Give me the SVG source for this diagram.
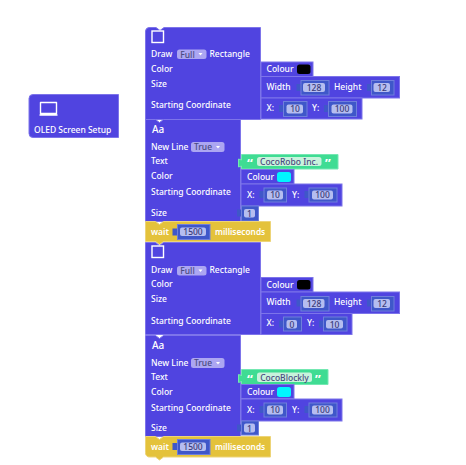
<svg xmlns="http://www.w3.org/2000/svg" width="466" height="465" viewBox="0 0 466 465">
<style>
text{font-family:"Noto Sans","Open Sans","Liberation Sans",sans-serif;font-size:8.500px;fill:#fff;font-weight:500}
.b{fill:#5044e0;stroke:#7d74ea;stroke-width:1}
.y{fill:#e4c23b;stroke:#edd478;stroke-width:1}
.g{fill:#3fdc93;stroke:#74e8b2;stroke-width:1}
.o{fill:#3f57c9;stroke:#6f7fdc;stroke-width:1}
.tab{fill:#3f57c9}
.f{fill:#b5bdf0}
.m{fill:#aca6f2}
.s{fill:#c8f3dc}
.t{fill:#4a4a80;text-anchor:middle}
.n{fill:#3b3b78;text-anchor:middle}
.q{font-size:13px;font-weight:700}
.k{fill:none;stroke:#fff;stroke-width:1.400}
.c{fill:none;stroke:#7d74ea;stroke-width:1}
.d{fill:#4638c0}
</style>
<g id="connectors">
<path class="c" d="M257 66v5h4M257 81v5h4M257 102v5h4M257 282v5h4M257 297v5h4M257 318v5h4"/>
<path class="d" d="M236 175h5v5h-5zM236 191h5v5h-5zM236 391h5v5h-5zM236 407h5v5h-5z"/>
</g>
<g id="oled-setup">
<path class="b" d="M33 94.500H118.500V137.500H33a4 4 0 0 1-4-4V98.500a4 4 0 0 1 4-4z"/>
<path class="k" d="M40.500 102.500h16v11h-16zM39.500 115h18" stroke-linejoin="round"/>
<text x="34" y="133">OLED Screen Setup</text>
</g>
<g id="rect-1">
<path class="b" d="M149 27.500h7l4 3 4-3H260.500V119.500H145.500V31a4 4 0 0 1 3.500-3.500z"/>
<rect class="k" x="152" y="31" width="11.500" height="11.500"/>
<text x="151" y="57">Draw</text>
<rect class="m" x="177" y="49.500" width="29.500" height="9.500" rx="2.500"/>
<text class="t" x="187.500" y="57.500">Full</text>
<path d="M198.500 53h4l-2 2.500z" fill="#fff"/>
<text x="209.500" y="57">Rectangle</text>
<text x="151" y="72">Color</text>
<text x="151" y="87">Size</text>
<text x="151" y="108">Starting Coordinate</text>
</g>
<g id="rect-1-colour">
<rect class="b" x="261" y="62" width="52" height="14.500"/>
<text x="266.500" y="72">Colour</text>
<rect x="297" y="64.500" width="13.500" height="9.500" rx="2.500" fill="#000"/>
</g>
<g id="rect-1-size">
<rect class="b" x="261" y="76.500" width="138.500" height="21.500"/>
<text x="266.500" y="90">Width</text>
<rect class="tab" x="296.500" y="84" width="5" height="7"/>
<rect class="o" x="301" y="80.500" width="28" height="14.500"/>
<rect class="f" x="303" y="83" width="22" height="9" rx="2"/>
<text class="n" x="314" y="90.500">128</text>
<text x="334" y="90">Height</text>
<rect class="tab" x="367" y="84" width="5" height="7"/>
<rect class="o" x="371.500" y="80.500" width="22.500" height="14.500"/>
<rect class="f" x="373.500" y="83" width="16.500" height="9" rx="2"/>
<text class="n" x="382" y="90.500">12</text>
</g>
<g id="rect-1-coord">
<rect class="b" x="261" y="98" width="101" height="21"/>
<text x="266.500" y="111">X:</text>
<rect class="tab" x="279" y="105" width="5" height="7"/>
<rect class="o" x="283.500" y="101.500" width="23.500" height="15"/>
<rect class="f" x="286.500" y="104.500" width="16.500" height="9" rx="2"/>
<text class="n" x="295" y="112">10</text>
<text x="312" y="111">Y:</text>
<rect class="tab" x="324" y="105" width="5" height="7"/>
<rect class="o" x="328.500" y="101.500" width="28" height="15"/>
<rect class="f" x="331.500" y="104.500" width="21" height="9" rx="2"/>
<text class="n" x="342" y="112">100</text>
</g>
<g id="text-1">
<path class="b" d="M145.500 119.500h10l4 3 4-3H240.500V221.500H145.500z"/>
<text x="152" y="133" style="font-size:10px">Aa</text>
<text x="151" y="150">New Line</text>
<rect class="m" x="191" y="142" width="33.500" height="10" rx="2.500"/>
<text class="t" x="203" y="150">True</text>
<path d="M216 146h4l-2 2.500z" fill="#fff"/>
<text x="151" y="164">Text</text>
<text x="151" y="179">Color</text>
<text x="151" y="195">Starting Coordinate</text>
<text x="151" y="216">Size</text>
</g>
<g id="text-1-string">
<path class="g" d="M241.500 154.500H338V169H241.500v-3l-3 1v-8l3 1z"/>
<text class="q" x="247" y="168">“</text>
<rect class="s" x="257" y="157" width="64.500" height="9" rx="2.500"/>
<text class="t" x="289" y="165">CocoRobo Inc.</text>
<text class="q" x="325" y="168">”</text>
</g>
<g id="text-1-colour">
<rect class="b" x="241" y="169.500" width="53" height="14.500"/>
<text x="247" y="179.500">Colour</text>
<rect x="277" y="172" width="14" height="10" rx="2.500" fill="#00f5ff"/>
</g>
<g id="text-1-coord">
<rect class="b" x="241" y="184" width="101" height="22"/>
<text x="247" y="198">X:</text>
<rect class="tab" x="259.500" y="191" width="5" height="7"/>
<rect class="o" x="264" y="188" width="22.500" height="14"/>
<rect class="f" x="267" y="190.500" width="16" height="9" rx="2"/>
<text class="n" x="275" y="198">10</text>
<text x="292" y="198">Y:</text>
<rect class="tab" x="304.500" y="191" width="5" height="7"/>
<rect class="o" x="309" y="188" width="28" height="14"/>
<rect class="f" x="312" y="190.500" width="21" height="9" rx="2"/>
<text class="n" x="322.500" y="198">100</text>
</g>
<g id="text-1-size">
<rect class="tab" x="237" y="209.500" width="5" height="7"/>
<rect class="o" x="241.500" y="206" width="17" height="15"/>
<rect class="f" x="244" y="209" width="11" height="8.500" rx="2"/>
<text class="n" x="249.500" y="216.500">1</text>
</g>
<g id="wait-1">
<path class="y" d="M145.500 221.500h10l4 3 4-3H270.500V241.500H163.500l-4 3-4-3H145.500z"/>
<text x="151" y="234.500" style="font-weight:600">wait</text>
<rect class="tab" x="172.500" y="228.500" width="5" height="7"/>
<rect class="o" x="177.500" y="224.500" width="32.500" height="15"/>
<rect class="f" x="180" y="227.500" width="26" height="8.500" rx="2"/>
<text class="n" x="193" y="235">1500</text>
<text x="215" y="234.500" style="font-weight:600;font-size:8.300px">milliseconds</text>
</g>
<g id="rect-2">
<path class="b" d="M145.500 242.500h10l4 3 4-3H260.500V334.500H145.500z"/>
<rect class="k" x="152" y="246" width="11.500" height="11.500"/>
<text x="151" y="273">Draw</text>
<rect class="m" x="177" y="266" width="29.500" height="9.500" rx="2.500"/>
<text class="t" x="187.500" y="274">Full</text>
<path d="M198.500 269.500h4l-2 2.500z" fill="#fff"/>
<text x="209.500" y="273">Rectangle</text>
<text x="151" y="287">Color</text>
<text x="151" y="302">Size</text>
<text x="151" y="324">Starting Coordinate</text>
</g>
<g id="rect-2-colour">
<rect class="b" x="261" y="277.500" width="52" height="14.500"/>
<text x="266.500" y="287.500">Colour</text>
<rect x="297" y="280" width="13.500" height="9.500" rx="2.500" fill="#000"/>
</g>
<g id="rect-2-size">
<rect class="b" x="261" y="292" width="138.500" height="21.500"/>
<text x="266.500" y="305">Width</text>
<rect class="tab" x="296.500" y="299.500" width="5" height="7"/>
<rect class="o" x="301" y="296.500" width="28" height="14.500"/>
<rect class="f" x="303" y="299" width="21.500" height="9" rx="2"/>
<text class="n" x="314" y="306.500">128</text>
<text x="334" y="305">Height</text>
<rect class="tab" x="367" y="299.500" width="5" height="7"/>
<rect class="o" x="371.500" y="296.500" width="22.500" height="14.500"/>
<rect class="f" x="373.500" y="299" width="16.500" height="9" rx="2"/>
<text class="n" x="382" y="306.500">12</text>
</g>
<g id="rect-2-coord">
<rect class="b" x="261" y="313.500" width="91" height="21"/>
<text x="266.500" y="326">X:</text>
<rect class="tab" x="279" y="320.500" width="5" height="7"/>
<rect class="o" x="283.500" y="317" width="18" height="14"/>
<rect class="f" x="286.500" y="320" width="10.500" height="8.500" rx="2"/>
<text class="n" x="292" y="327.500">0</text>
<text x="307" y="326">Y:</text>
<rect class="tab" x="319" y="320.500" width="5" height="7"/>
<rect class="o" x="323.500" y="317" width="23.500" height="14"/>
<rect class="f" x="326" y="320" width="17" height="8.500" rx="2"/>
<text class="n" x="334.500" y="327.500">10</text>
</g>
<g id="text-2">
<path class="b" d="M145.500 335.500h10l4 3 4-3H240.500V436.500H145.500z"/>
<text x="152" y="349" style="font-size:10px">Aa</text>
<text x="151" y="366">New Line</text>
<rect class="m" x="191" y="358" width="33.500" height="10" rx="2.500"/>
<text class="t" x="203" y="366">True</text>
<path d="M216 362h4l-2 2.500z" fill="#fff"/>
<text x="151" y="380">Text</text>
<text x="151" y="395">Color</text>
<text x="151" y="411">Starting Coordinate</text>
<text x="151" y="431">Size</text>
</g>
<g id="text-2-string">
<path class="g" d="M241.500 369.500H328V384.500H241.500v-3l-3 1v-8l3 1z"/>
<text class="q" x="247" y="383.500">“</text>
<rect class="s" x="257" y="372.500" width="55" height="9.500" rx="2.500"/>
<text class="t" x="284.500" y="380.500">CocoBlockly</text>
<text class="q" x="315" y="383.500">”</text>
</g>
<g id="text-2-colour">
<rect class="b" x="241" y="384.500" width="53" height="14"/>
<text x="247" y="395">Colour</text>
<rect x="277" y="387" width="14" height="10" rx="2.500" fill="#00f5ff"/>
</g>
<g id="text-2-coord">
<rect class="b" x="241" y="399" width="101" height="22"/>
<text x="247" y="412.500">X:</text>
<rect class="tab" x="259.500" y="406" width="5" height="7"/>
<rect class="o" x="264" y="403" width="22.500" height="14"/>
<rect class="f" x="267" y="405.500" width="16" height="9" rx="2"/>
<text class="n" x="275" y="413">10</text>
<text x="292" y="412.500">Y:</text>
<rect class="tab" x="304.500" y="406" width="5" height="7"/>
<rect class="o" x="309" y="403" width="28" height="14"/>
<rect class="f" x="312" y="405.500" width="21" height="9" rx="2"/>
<text class="n" x="322.500" y="413">100</text>
</g>
<g id="text-2-size">
<rect class="tab" x="237" y="424.500" width="5" height="7"/>
<rect class="o" x="241.500" y="421" width="17" height="14"/>
<rect class="f" x="244" y="423.500" width="11" height="9" rx="2"/>
<text class="n" x="249.500" y="431.500">1</text>
</g>
<g id="wait-2">
<path class="y" d="M145.500 436.500h10l4 3 4-3H270.500V457H163.500l-4 3-4-3H150a4 4 0 0 1-4.500-4.500z"/>
<text x="151" y="449.500" style="font-weight:600">wait</text>
<rect class="tab" x="172.500" y="443" width="5" height="7"/>
<rect class="o" x="177.500" y="439.500" width="32.500" height="15"/>
<rect class="f" x="180" y="442.500" width="26" height="8.500" rx="2"/>
<text class="n" x="193" y="450">1500</text>
<text x="215" y="449.500" style="font-weight:600;font-size:8.300px">milliseconds</text>
</g>
</svg>
